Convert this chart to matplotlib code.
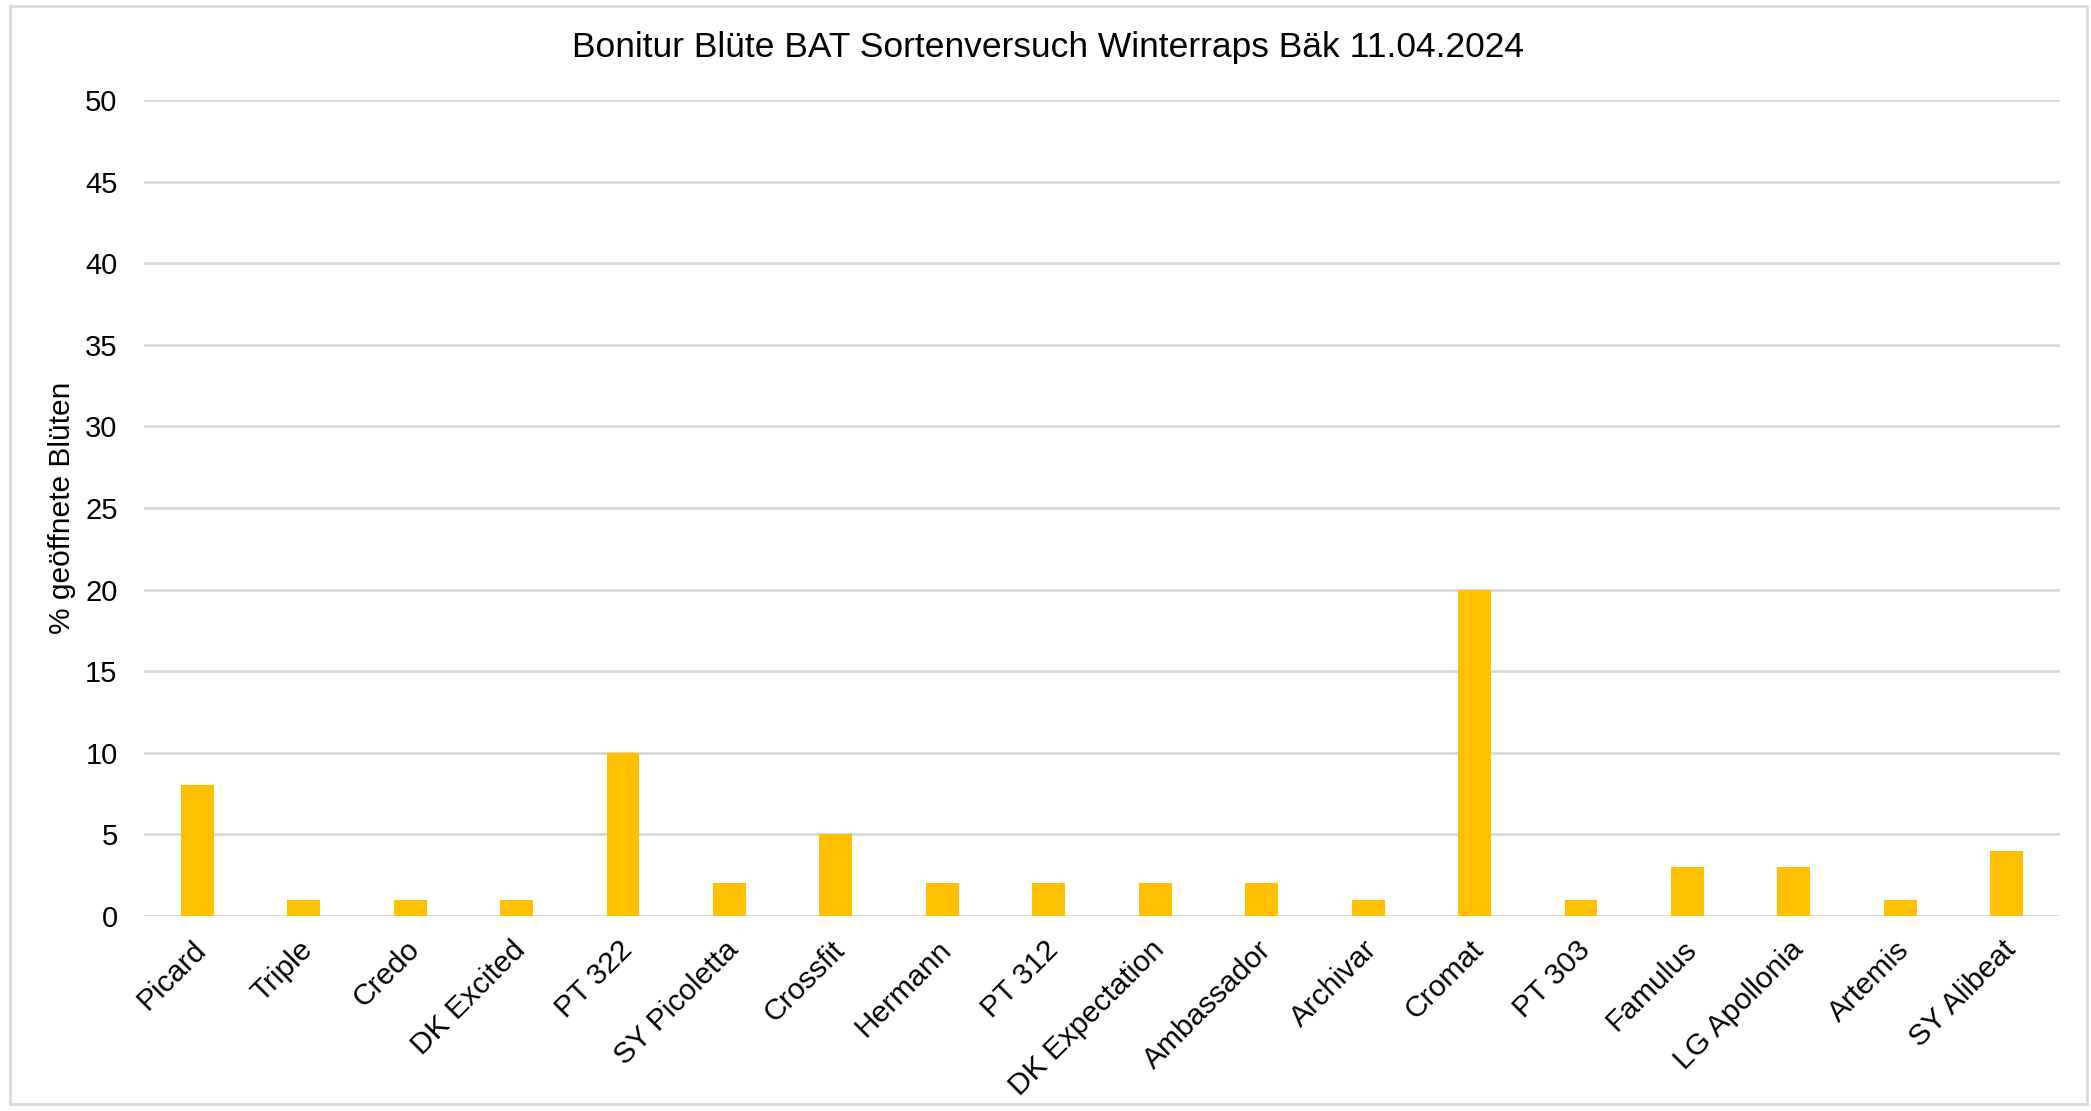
import matplotlib
matplotlib.use("Agg")
import matplotlib.pyplot as plt
import matplotlib.transforms as mtransforms
from matplotlib.patches import Rectangle

# Daten der Bonitur
sorten = ["Picard", "Triple", "Credo", "DK Excited", "PT 322", "SY Picoletta",
          "Crossfit", "Hermann", "PT 312", "DK Expectation", "Ambassador",
          "Archivar", "Cromat", "PT 303", "Famulus", "LG Apollonia",
          "Artemis", "SY Alibeat"]
bluete_offen = [8, 1, 1, 1, 10, 2, 5, 2, 2, 2, 2, 1, 20, 1, 3, 3, 1, 4]
y_ticks = [0, 5, 10, 15, 20, 25, 30, 35, 40, 45, 50]

titel = "Bonitur Blüte BAT Sortenversuch Winterraps Bäk 11.04.2024"
y_titel = "% geöffnete Blüten"

plt.rcParams['font.family'] = ['Liberation Sans', 'DejaVu Sans']

fig = plt.figure(figsize=(20.91, 11.11), dpi=100)
ax = fig.add_axes([144 / 2091, 1 - 916 / 1111, (2060 - 144) / 2091, (916 - 100) / 1111])

x = range(len(sorten))
ax.bar(x, bluete_offen, width=0.31, color="#FFC000", zorder=3)

ax.set_xlim(-0.5, len(sorten) - 0.5)
ax.set_ylim(0, 50)
ax.set_yticks(y_ticks)
ax.set_xticks(list(x))
ax.set_xticklabels(sorten, rotation=45, ha="right", rotation_mode="anchor", fontsize=21.5)
ax.tick_params(axis="y", labelsize=21, length=0, pad=19)
ax.tick_params(axis="x", length=0, pad=14)

# Beschriftungen etwas nach links schieben
versatz = mtransforms.ScaledTranslation(-5 / 100, 0, fig.dpi_scale_trans)
for lbl in ax.get_xticklabels():
    lbl.set_transform(lbl.get_transform() + versatz)

ax.grid(axis="y", color="#D9D9D9", linewidth=2, zorder=0)
for s in ax.spines.values():
    s.set_visible(False)

ax.set_ylabel(y_titel, fontsize=21.5)
ax.yaxis.set_label_coords((76 - 144) / 1916, 0.5)

fig.text(0.501, 1 - 48 / 1111, titel, ha="center", va="center", fontsize=25.5)

# Rahmen um das Diagramm
rahmen = Rectangle((10 / 2091, 1 - 1104 / 1111), (2087 - 10) / 2091, (1104 - 6) / 1111,
                   transform=fig.transFigure, fill=False, edgecolor="#D9D9D9", linewidth=2)
fig.patches.append(rahmen)

fig.savefig("out.png", dpi=100)
